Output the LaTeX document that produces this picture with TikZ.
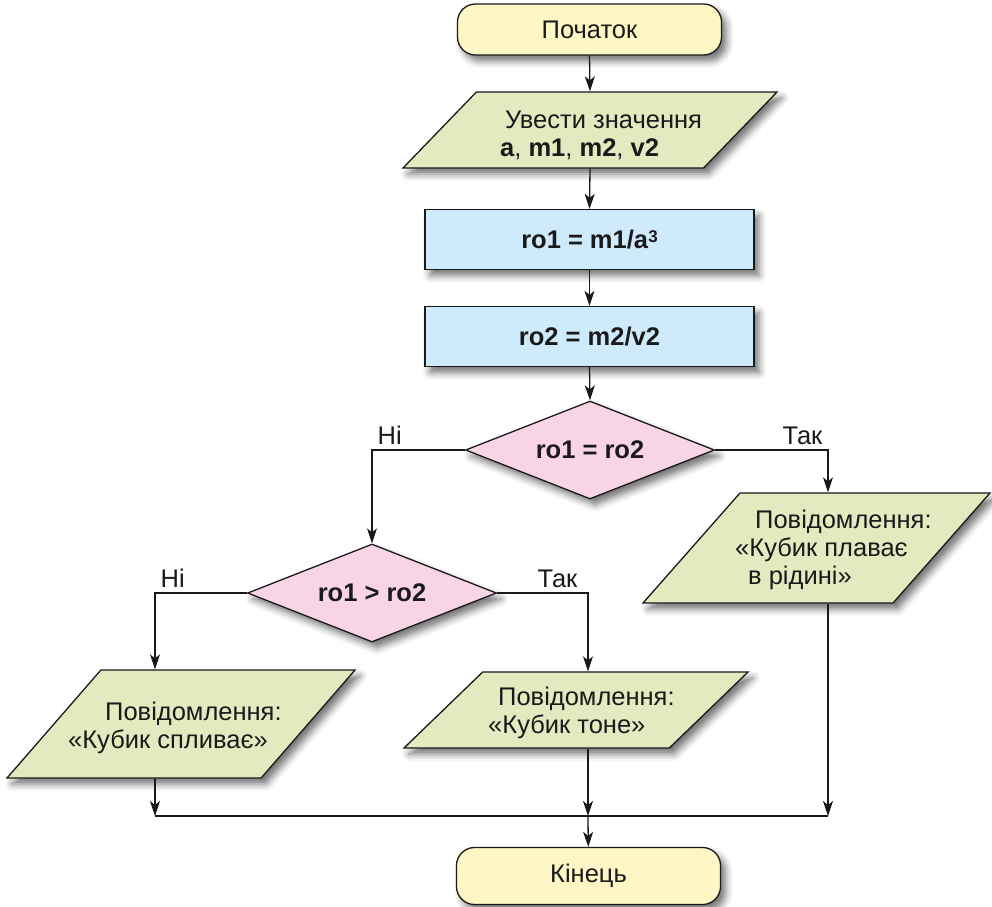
\documentclass[tikz,border=0pt]{standalone}
\usepackage{fontspec}
\setmainfont{Liberation Sans}
\usetikzlibrary{shapes.geometric,arrows.meta,shadows.blur}

\definecolor{termfill}{HTML}{FFF6C6}
\definecolor{iofill}{HTML}{E2EABF}
\definecolor{procfill}{HTML}{CFEAFB}
\definecolor{decfill}{HTML}{F9D3E6}
\definecolor{inkline}{HTML}{1A1A1A}

\begin{document}
\begin{tikzpicture}[x=1pt, y=-1pt,
  font=\fontsize{25.5}{28}\selectfont,
  every node/.style={text=inkline},
  softshadow/.style={blur shadow={shadow xshift=5pt, shadow yshift=-6pt, shadow blur radius=7pt, shadow opacity=55}},
  term/.style={softshadow, draw=inkline, line width=1.3pt, fill=termfill, rounded corners=18pt, minimum width=264pt, inner sep=0pt},
  proc/.style={softshadow, draw=inkline, line width=1.3pt, fill=procfill, minimum width=329pt, minimum height=60pt, inner sep=0pt},
  io/.style={softshadow, draw=inkline, line width=1.3pt, fill=iofill, trapezium, trapezium stretches body, inner sep=0pt},
  dec/.style={softshadow, draw=inkline, line width=1.3pt, fill=decfill, diamond, aspect=2.5, minimum width=249pt, minimum height=98pt, inner sep=0pt},
  txt/.style={align=left, anchor=west, inner sep=0pt},
  lbl/.style={inner sep=5pt},
  arr/.style={draw=inkline, line width=1.3pt, -{Stealth[length=15pt, width=10pt, inset=4pt]}},
  ln/.style={draw=inkline, line width=1.3pt}
]
\useasboundingbox (0,0) rectangle (992,906);

% blocks
\node[term, minimum height=51pt] (start) at (589.5,29.5) {Початок};
\node[io, trapezium left angle=46, trapezium right angle=134, minimum width=374pt] (inp) at (590,130) {\rule{0pt}{76pt}};
\node[txt] (inpTxt) at (500,135) {\hspace*{5pt}Увести значення\\\textbf{a}, \textbf{m1}, \textbf{m2}, \textbf{v2}};
\node[proc] (ro1) at (589.5,239.5) {\textbf{ro1 = m1/a}\raisebox{6pt}{\fontsize{17}{17}\selectfont\bfseries 3}};
\node[proc] (ro2) at (589.5,336.5) {\textbf{ro2 = m2/v2}};
\node[dec] (cmpEq) at (590,450) {\textbf{ro1 = ro2}};
\node[dec] (cmpGt) at (372,593) {\textbf{ro1 > ro2}};

% messages
\node[io, trapezium left angle=49, trapezium right angle=131, minimum width=348pt] (msgFloat) at (181,724) {\rule{0pt}{108pt}};
\node[txt] (msgFloatTxt) at (68,728) {\hspace*{37pt}Повідомлення:\\«Кубик спливає»};
\node[io, trapezium left angle=44, trapezium right angle=136, minimum width=344pt] (msgSink) at (576,710) {\rule{0pt}{76pt}};
\node[txt] (msgSinkTxt) at (488,713) {\hspace*{10pt}Повідомлення:\\«Кубик тоне»};
\node[io, trapezium left angle=48.6, trapezium right angle=131.4, minimum width=347pt] (msgSwim) at (816.5,548) {\rule{0pt}{110pt}};
\node[txt] (msgSwimTxt) at (735,550) {\hspace*{20pt}Повідомлення:\\«Кубик плаває\\\hspace*{13pt}в рідині»};

\node[term, minimum height=57pt] (stop) at (588.5,876) {Кінець};

% merge points
\coordinate (mrgL) at (155,816);
\coordinate (mrg) at (588,816);
\coordinate (mrgR) at (828,816);

% connectors
\draw[arr] (start.south) -- (inp.north);
\draw[arr] (inp.south) -- (ro1.north);
\draw[arr] (ro1) -- (ro2);
\draw[arr] (ro2.south) -- (cmpEq.north);
\draw[arr] (cmpEq.west) -| node[lbl, pos=0.5, above right] (noEq) {Ні} (cmpGt.north);
\draw[arr] (cmpEq.east) -| node[lbl, pos=0.5, above left] (yesEq) {Так} (msgSwim.north -| mrgR);
\draw[arr] (cmpGt.west) -| node[lbl, pos=0.5, above right] (noGt) {Ні} (msgFloat.north -| mrgL);
\draw[arr] (cmpGt.east) -| node[lbl, pos=0.5, above left, xshift=-5pt] (yesGt) {Так} (msgSink.north -| mrg);

\draw[arr] (msgFloat.south -| mrgL) -- (mrgL);
\draw[arr] (msgSink.south -| mrg) -- (mrg);
\draw[arr] (msgSwim.south -| mrgR) -- (mrgR);
\draw[ln] (mrgL) -- (mrgR);
\draw[arr] (mrg) -- (stop);

\end{tikzpicture}
\end{document}
